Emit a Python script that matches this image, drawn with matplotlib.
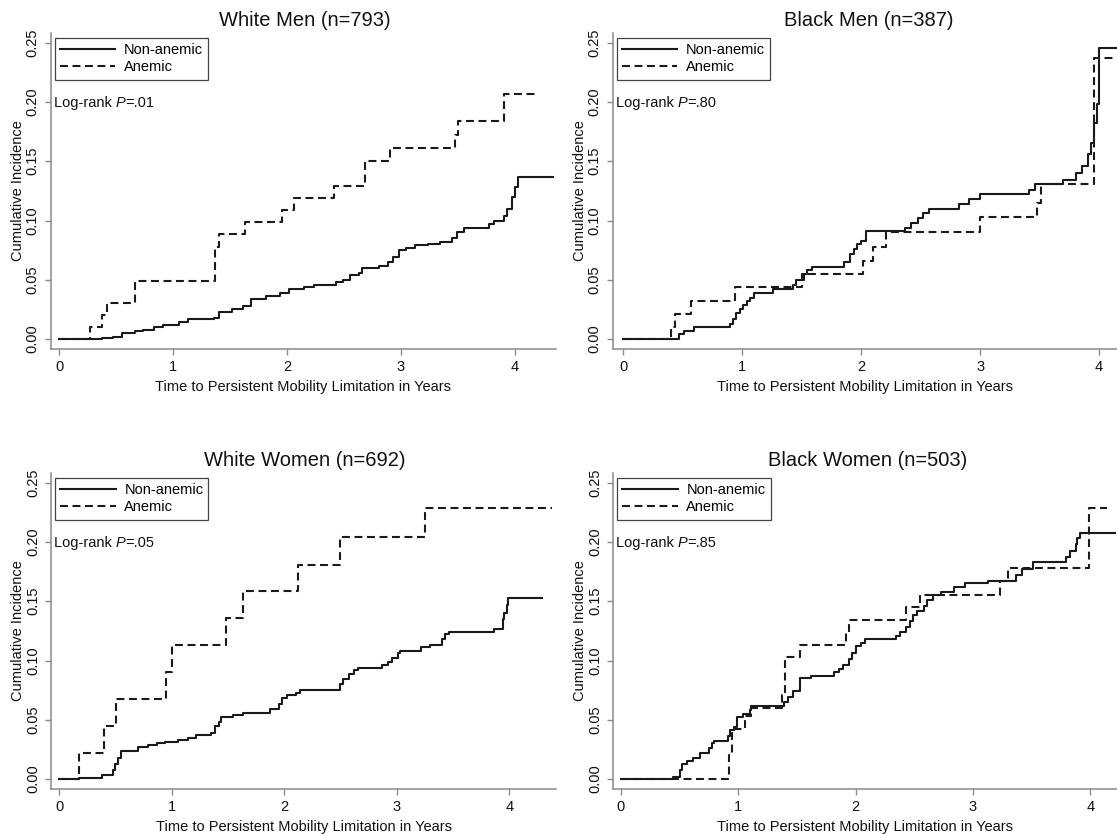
import matplotlib
matplotlib.use("Agg")
import matplotlib.pyplot as plt

plt.rcParams['font.family'] = ['Liberation Sans', 'DejaVu Sans']

# ---------------- data ----------------
titles = ["White Men (n=793)", "Black Men (n=387)", "White Women (n=692)", "Black Women (n=503)"]
p_values = [".01", ".80", ".05", ".85"]
series_labels = ["Non-anemic", "Anemic"]
x_ticks = [0, 1, 2, 3, 4]
y_ticks = [0.0, 0.05, 0.10, 0.15, 0.20, 0.25]
y_tick_labels = ["0.00", "0.05", "0.10", "0.15", "0.20", "0.25"]
x_label = "Time to Persistent Mobility Limitation in Years"
y_label = "Cumulative Incidence"

# White men
wm_non_t = [0, 0.38, 0.47, 0.55, 0.67, 0.74, 0.83, 0.91, 1.05, 1.13, 1.36, 1.40, 1.52, 1.61, 1.68,
            1.82, 1.94, 2.02, 2.15, 2.24, 2.43, 2.49, 2.55, 2.63, 2.66, 2.81, 2.89, 2.93, 2.98, 3.04,
            3.12, 3.24, 3.34, 3.45, 3.49, 3.55, 3.77, 3.82, 3.90, 3.93, 3.97, 4.00, 4.03, 4.33]
wm_non_y = [0, 0.001, 0.002, 0.005, 0.007, 0.008, 0.010, 0.012, 0.014, 0.017, 0.018, 0.023, 0.025,
            0.028, 0.034, 0.036, 0.039, 0.042, 0.044, 0.046, 0.048, 0.050, 0.054, 0.056, 0.060, 0.062,
            0.065, 0.069, 0.075, 0.077, 0.079, 0.080, 0.082, 0.085, 0.090, 0.094, 0.097, 0.100, 0.104,
            0.110, 0.120, 0.128, 0.137, 0.137]
wm_ane_t = [0, 0.27, 0.38, 0.42, 0.67, 1.37, 1.40, 1.63, 1.96, 2.06, 2.41, 2.68, 2.90, 3.47, 3.50, 3.90, 4.18]
wm_ane_y = [0, 0.010, 0.020, 0.030, 0.049, 0.078, 0.0885, 0.0986, 0.109, 0.119, 0.1295, 0.1506, 0.161,
            0.172, 0.184, 0.207, 0.207]

# Black men
bm_non_t = [0, 0.47, 0.51, 0.60, 0.90, 0.92, 0.95, 0.98, 1.01, 1.04, 1.07, 1.10, 1.26, 1.43, 1.45,
            1.52, 1.55, 1.59, 1.86, 1.91, 1.94, 1.97, 2.00, 2.04, 2.37, 2.42, 2.48, 2.52, 2.57, 2.82,
            2.91, 3.00, 3.41, 3.46, 3.70, 3.81, 3.86, 3.91, 3.93, 3.96, 3.98, 4.00, 4.25]
bm_non_y = [0, 0.004, 0.007, 0.010, 0.013, 0.017, 0.022, 0.025, 0.029, 0.032, 0.035, 0.039, 0.042,
            0.046, 0.050, 0.055, 0.058, 0.061, 0.065, 0.072, 0.076, 0.080, 0.083, 0.091, 0.094, 0.098,
            0.102, 0.106, 0.110, 0.114, 0.118, 0.122, 0.126, 0.131, 0.134, 0.140, 0.146, 0.156, 0.165,
            0.182, 0.198, 0.2455, 0.2455]
bm_ane_t = [0, 0.40, 0.44, 0.57, 0.94, 1.50, 2.02, 2.10, 2.21, 3.00, 3.48, 3.51, 3.96, 4.25]
bm_ane_y = [0, 0.010, 0.021, 0.032, 0.044, 0.055, 0.066, 0.078, 0.090, 0.103, 0.115, 0.131, 0.237, 0.237]

# White women
ww_non_t = [0, 0.175, 0.38, 0.48, 0.49, 0.52, 0.55, 0.70, 0.79, 0.87, 0.94, 1.05, 1.14, 1.21, 1.35,
            1.38, 1.42, 1.44, 1.54, 1.63, 1.87, 1.95, 1.98, 2.02, 2.10, 2.14, 2.49, 2.52, 2.57, 2.62,
            2.65, 2.87, 2.92, 2.96, 3.01, 3.03, 3.21, 3.29, 3.40, 3.43, 3.46, 3.86, 3.94, 3.95, 3.98,
            3.99, 4.29]
ww_non_y = [0, 0.001, 0.003, 0.008, 0.013, 0.018, 0.024, 0.027, 0.029, 0.030, 0.031, 0.033, 0.035,
            0.037, 0.039, 0.045, 0.048, 0.052, 0.054, 0.056, 0.059, 0.063, 0.068, 0.071, 0.073, 0.075,
            0.080, 0.084, 0.089, 0.092, 0.094, 0.096, 0.099, 0.102, 0.106, 0.108, 0.111, 0.113, 0.118,
            0.122, 0.124, 0.127, 0.135, 0.140, 0.147, 0.153, 0.153]
ww_ane_t = [0, 0.175, 0.40, 0.50, 0.945, 1.0, 1.48, 1.63, 2.12, 2.49, 3.25, 4.38]
ww_ane_y = [0, 0.022, 0.045, 0.0674, 0.090, 0.113, 0.136, 0.159, 0.181, 0.204, 0.229, 0.229]

# Black women
bw_non_t = [0, 0.44, 0.50, 0.52, 0.56, 0.61, 0.67, 0.75, 0.78, 0.79, 0.91, 0.93, 0.96, 0.99, 1.04,
            1.10, 1.11, 1.39, 1.42, 1.47, 1.53, 1.62, 1.82, 1.86, 1.89, 1.94, 1.97, 2.00, 2.05, 2.08,
            2.34, 2.38, 2.43, 2.46, 2.49, 2.52, 2.58, 2.61, 2.66, 2.73, 2.84, 2.93, 3.13, 3.37, 3.42,
            3.51, 3.79, 3.83, 3.88, 3.89, 3.91, 4.21]
bw_non_y = [0, 0.002, 0.008, 0.013, 0.015, 0.018, 0.022, 0.026, 0.030, 0.032, 0.036, 0.041, 0.044,
            0.052, 0.055, 0.058, 0.062, 0.065, 0.069, 0.074, 0.085, 0.087, 0.090, 0.093, 0.096, 0.101,
            0.106, 0.112, 0.115, 0.118, 0.121, 0.124, 0.128, 0.133, 0.138, 0.142, 0.146, 0.151, 0.155,
            0.158, 0.162, 0.165, 0.167, 0.172, 0.177, 0.183, 0.187, 0.192, 0.198, 0.203, 0.208, 0.208]
bw_ane_t = [0, 0.92, 0.95, 1.06, 1.11, 1.37, 1.40, 1.53, 1.92, 1.94, 2.43, 2.55, 3.23, 3.30, 3.99, 4.14]
bw_ane_y = [0, 0.020, 0.042, 0.053, 0.060, 0.071, 0.103, 0.113, 0.124, 0.134, 0.145, 0.155, 0.167,
            0.178, 0.229, 0.229]

panel_series = [
    ((wm_non_t, wm_non_y), (wm_ane_t, wm_ane_y)),
    ((bm_non_t, bm_non_y), (bm_ane_t, bm_ane_y)),
    ((ww_non_t, ww_non_y), (ww_ane_t, ww_ane_y)),
    ((bw_non_t, bw_non_y), (bw_ane_t, bw_ane_y)),
]

# ---------------- layout (pixels) ----------------
W, H = 1117, 834
# left, right, top, bottom in pixels ; x-limits ; title center x
layout = [
    (50.7, 556, 33, 349, (-0.073, 4.36), 305),
    (612.7, 1117, 33, 349, (-0.087, 4.151), 869),
    (51, 556, 473, 789, (-0.075, 4.414), 305),
    (613, 1117, 473, 789, (-0.068, 4.228), 868),
]
ylim = (-0.0084, 0.2582)

fig = plt.figure(figsize=(W / 100, H / 100), dpi=100)
fig.patch.set_facecolor("white")

spine_col = "#8a8a8a"
line_col = "#1a1a1a"
txt_col = "#111111"
fs = 10.5

for i, (lft, rgt, top, bot, xl, tcx) in enumerate(layout):
    ax = fig.add_axes([lft / W, 1 - bot / H, (rgt - lft) / W, (bot - top) / H])
    (nt, ny), (at, ay) = panel_series[i]
    ax.step(nt, ny, where="post", color=line_col, lw=1.5, label=series_labels[0])
    ax.step(at, ay, where="post", color=line_col, lw=1.5, dashes=(3.8, 2.2), label=series_labels[1])
    ax.set_xlim(*xl)
    ax.set_ylim(*ylim)
    ax.set_xticks(x_ticks)
    ax.set_xticklabels([str(v) for v in x_ticks])
    ax.set_yticks(y_ticks)
    ax.set_yticklabels(y_tick_labels, rotation=90, va="center")
    for s in ["top", "right"]:
        ax.spines[s].set_visible(False)
    for s in ["left", "bottom"]:
        ax.spines[s].set_color(spine_col)
        ax.spines[s].set_linewidth(1.1)
    ax.tick_params(axis="both", direction="out", length=4, width=1.0, color=spine_col,
                   labelsize=fs, labelcolor=txt_col)
    ax.tick_params(axis="x", pad=4)
    ax.tick_params(axis="y", pad=4)
    ax.set_xlabel(x_label, fontsize=fs, labelpad=4, color=txt_col)
    ax.set_ylabel(y_label, fontsize=fs, labelpad=0.5, color=txt_col)
    ax.patch.set_alpha(0)

    # legend
    leg = ax.legend(loc="upper left", bbox_to_anchor=(4.0 / (rgt - lft), 1 - 4.7 / (bot - top)),
                    borderaxespad=0, fontsize=fs, handlelength=3.8, handletextpad=0.6,
                    labelspacing=0.25, borderpad=0.35, fancybox=False, framealpha=1,
                    edgecolor="#444444")
    leg.get_frame().set_linewidth(0.9)

    # log-rank text (P in italics)
    t1 = ax.text(3.0 / (rgt - lft), (bot - 103 - (top - 33)) / (bot - top), "Log-rank ",
                 transform=ax.transAxes, fontsize=fs, ha="left", va="center", color=txt_col)
    t2 = ax.annotate("P", xy=(1, 0), xycoords=t1, ha="left", va="bottom",
                     fontsize=fs, style="italic", color=txt_col)
    ax.annotate("=" + p_values[i], xy=(1, 0), xycoords=t2, ha="left", va="bottom",
                fontsize=fs, color=txt_col)

    # title
    fig.text(tcx / W, 1 - (20 + (top - 33)) / H, titles[i], ha="center", va="center",
             fontsize=14.5, color=txt_col)

fig.savefig("out.png", dpi=100)
